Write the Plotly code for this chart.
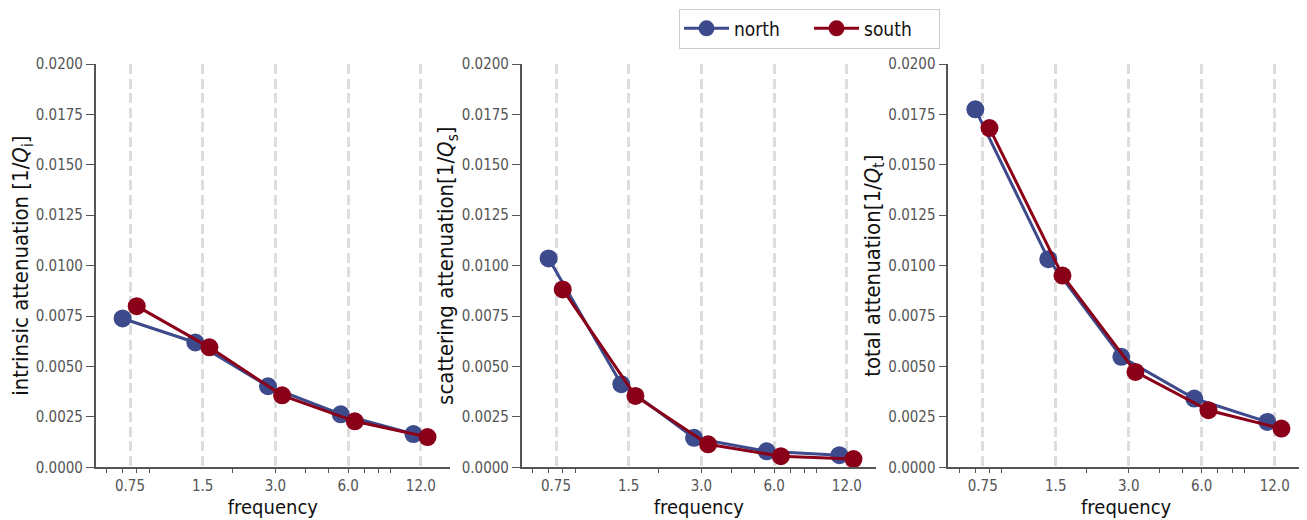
import plotly.graph_objects as go

freq = [0.75, 1.5, 3.0, 6.0, 12.0]
tick_labels = ["0.75", "1.5", "3.0", "6.0", "12.0"]
minor_ticks = [0.6, 0.7, 0.8, 0.9, 2, 3, 4, 5, 6, 7, 8, 9]
y_ticks = [0, 0.0025, 0.005, 0.0075, 0.01, 0.0125, 0.015, 0.0175, 0.02]

intrinsic_north = [0.00738, 0.00619, 0.00402, 0.00263, 0.00165]
intrinsic_south = [0.00799, 0.00595, 0.00357, 0.00228, 0.00150]
scattering_north = [0.01036, 0.00412, 0.00146, 0.00079, 0.00060]
scattering_south = [0.00882, 0.00354, 0.00114, 0.00055, 0.00041]
total_north = [0.01775, 0.01032, 0.00548, 0.00341, 0.00225]
total_south = [0.01682, 0.00951, 0.00473, 0.00283, 0.00192]

y_titles = [
    "intrinsic attenuation [1/<i>Q</i><sub>i</sub>]",
    "scattering attenuation[1/<i>Q</i><sub>s</sub>]",
    "total attenuation[1/<i>Q</i><sub>t</sub>]",
]

NORTH = "#3d4a8c"
SOUTH = "#8b0019"
FONT = "DejaVu Sans Condensed, DejaVu Sans, sans-serif"
OFF = 8  # page body margin
W, H = 1307 - OFF, 520 - OFF

north_shift = 0.932
south_shift = 1.066
xn = [f * north_shift for f in freq]
xs = [f * south_shift for f in freq]

panels = [
    (intrinsic_north, intrinsic_south),
    (scattering_north, scattering_south),
    (total_north, total_south),
]
x_px = [(95.7, 450.0), (521.7, 876.0), (948.3, 1304.0)]


def px_x(v):
    return (v - OFF) / W


def px_y(v):
    return 1 - (v - OFF) / H


fig = go.Figure()
for i, (yn, ys) in enumerate(panels):
    suffix = "" if i == 0 else str(i + 1)
    fig.add_trace(go.Scatter(
        x=xn, y=yn, mode="lines+markers", name="north",
        line=dict(color=NORTH, width=3), marker=dict(color=NORTH, size=18),
        xaxis="x" + suffix, yaxis="y" + suffix, showlegend=(i == 0),
        legendgroup="north"))
    fig.add_trace(go.Scatter(
        x=xs, y=ys, mode="lines+markers", name="south",
        line=dict(color=SOUTH, width=3), marker=dict(color=SOUTH, size=18),
        xaxis="x" + suffix, yaxis="y" + suffix, showlegend=(i == 0),
        legendgroup="south"))

ydom = [px_y(467.3), px_y(64)]
layout = dict(
    width=W, height=H,
    margin=dict(l=0, r=0, t=0, b=0, autoexpand=False),
    paper_bgcolor="white", plot_bgcolor="white",
    font=dict(family=FONT, color="#111111", size=19),
    legend=dict(
        orientation="h", x=px_x(679), y=px_y(8.5), xanchor="left", yanchor="top",
        bordercolor="#cccccc", borderwidth=1, font=dict(size=19, color="#111111"),
        itemwidth=45, entrywidth=70, entrywidthmode="pixels", tracegroupgap=0),
)
for i in range(3):
    suffix = "" if i == 0 else str(i + 1)
    l, r = x_px[i]
    layout["xaxis" + suffix] = dict(
        domain=[px_x(l), px_x(r)], type="log", range=[-0.267, 1.200],
        anchor="y" + suffix, automargin=False,
        tickmode="array", tickvals=freq, ticktext=tick_labels,
        ticks="outside", ticklen=4, tickcolor="rgba(0,0,0,0)",
        tickfont=dict(size=15, color="#555555", family=FONT),
        showline=True, linecolor="#555555", linewidth=1.5,
        showgrid=True, gridcolor="#dddddd", griddash="10px,4.5px", gridwidth=2.5,
        zeroline=False,
        minor=dict(tickmode="array", tickvals=minor_ticks,
                   ticks="outside", ticklen=4, tickwidth=1.2,
                   tickcolor="#555555", showgrid=False),
        title=dict(text="frequency", font=dict(size=20, family=FONT, color="#111111"),
                   standoff=2),
    )
    layout["yaxis" + suffix] = dict(
        domain=ydom, range=[0, 0.02], anchor="x" + suffix, automargin=False,
        tickmode="array", tickvals=y_ticks, tickformat=".4f",
        ticks="outside", ticklen=8, tickwidth=1.2, tickcolor="#555555",
        tickfont=dict(size=15, color="#555555", family=FONT),
        showline=True, linecolor="#555555", linewidth=1.5,
        showgrid=False, zeroline=False,
        title=dict(text=y_titles[i], font=dict(size=22, family=FONT, color="#111111"),
                   standoff=2),
    )
fig.update_layout(**layout)
fig.write_html("out.html")
